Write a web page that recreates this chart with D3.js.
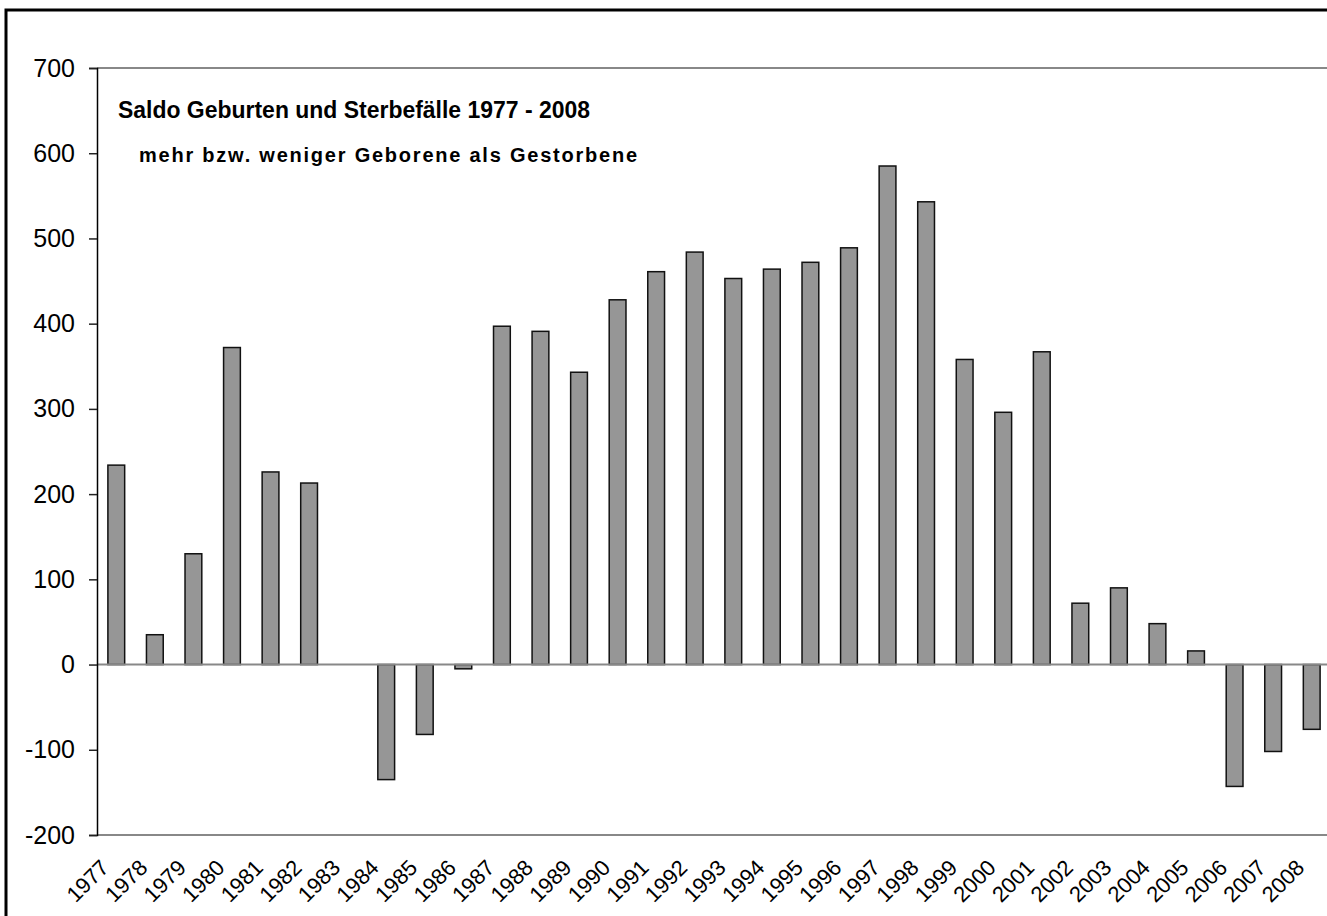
<!DOCTYPE html>
<html>
<head>
<meta charset="utf-8">
<script src="https://cdn.jsdelivr.net/npm/d3@7"></script>
<style>
  body { margin: 0; background: #fff; }
  text { font-family: "Liberation Sans", Arial, sans-serif; }
</style>
</head>
<body>
<script>
var width = 1327,
    height = 916;

// data
var years = ['1977','1978','1979','1980','1981','1982','1983','1984','1985','1986',
             '1987','1988','1989','1990','1991','1992','1993','1994','1995','1996',
             '1997','1998','1999','2000','2001','2002','2003','2004','2005','2006',
             '2007','2008'];
var saldo = [234, 35, 130, 372, 226, 213, 0, -135, -82, -5,
             397, 391, 343, 428, 461, 484, 453, 464, 472, 489,
             585, 543, 358, 296, 367, 72, 90, 48, 16, -143,
             -102, -76];
var yTicks = [-200, -100, 0, 100, 200, 300, 400, 500, 600, 700];
var title = 'Saldo Geburten und Sterbefälle 1977 - 2008';
var subtitle = 'mehr bzw. weniger Geborene als Gestorbene';

var margin = {left: 97, top: 68, right: -4, bottom: 81};

var svg = d3.select('body')
  .append('svg')
  .attr('width', width)
  .attr('height', height);

// outer chart frame (cut off at right and bottom)
svg.append('rect')
  .attr('x', 6)
  .attr('y', 10)
  .attr('width', width + 20)
  .attr('height', height + 20)
  .attr('fill', 'none')
  .attr('stroke', '#000')
  .attr('stroke-width', 3);

var x = d3.scaleBand()
  .domain(years)
  .range([margin.left, width - margin.right])
  .paddingInner(0.565)
  .paddingOuter(0.2825);

var y = d3.scaleLinear()
  .domain([-200, 700])
  .range([height - margin.bottom, margin.top]);

// horizontal lines at top and bottom
svg.append('g')
  .selectAll('line')
  .data([700, -200])
  .enter()
  .append('line')
  .attr('x1', margin.left)
  .attr('x2', width + 10)
  .attr('y1', function(d) { return y(d); })
  .attr('y2', function(d) { return y(d); })
  .attr('stroke', '#888')
  .attr('stroke-width', 2);

svg.append('g')
  .selectAll('rect')
  .data(saldo)
  .enter()
  .append('rect')
  .attr('x', function(d, i) { return x(years[i]); })
  .attr('width', x.bandwidth())
  .attr('y', function(d) { return y(Math.max(0, d)); })
  .attr('height', function(d) { return Math.abs(y(d) - y(0)); })
  .attr('fill', '#969696')
  .attr('stroke', '#111')
  .attr('stroke-width', 1.5);

// zero line
svg.append('line')
  .attr('x1', margin.left)
  .attr('x2', width + 10)
  .attr('y1', y(0))
  .attr('y2', y(0))
  .attr('stroke', '#888')
  .attr('stroke-width', 2);

var yAxis = d3.axisLeft(y)
  .tickValues(yTicks)
  .tickSize(8)
  .tickPadding(14)
  .tickFormat(function(d) { return String(d); });

var gy = svg.append('g')
  .attr('transform', 'translate(' + margin.left + ',0)')
  .call(yAxis);
gy.select('.domain').attr('stroke', '#000').attr('stroke-width', 1.5);
gy.selectAll('.tick line').attr('stroke', '#222').attr('stroke-width', 1.5);
gy.selectAll('.tick text')
  .attr('font-size', 25)
  .attr('fill', '#000')
  .attr('font-family', '"Liberation Sans", Arial, sans-serif');

// rotated year labels
svg.append('g')
  .selectAll('text')
  .data(years)
  .enter()
  .append('text')
  .attr('transform', function(d) {
    return 'translate(' + (x(d) + x.bandwidth() / 2 - 6) + ',' + (height - margin.bottom + 34) + ') rotate(-45)';
  })
  .attr('text-anchor', 'end')
  .attr('font-size', 22)
  .text(function(d) { return d; });

svg.append('text')
  .attr('x', 118)
  .attr('y', 118)
  .attr('font-size', 24)
  .attr('font-weight', 'bold')
  .attr('textLength', 472)
  .attr('lengthAdjust', 'spacingAndGlyphs')
  .text(title);

svg.append('text')
  .attr('x', 139)
  .attr('y', 162)
  .attr('font-size', 20)
  .attr('font-weight', 'bold')
  .attr('textLength', 498)
  .attr('lengthAdjust', 'spacing')
  .text(subtitle);
</script>
</body>
</html>
